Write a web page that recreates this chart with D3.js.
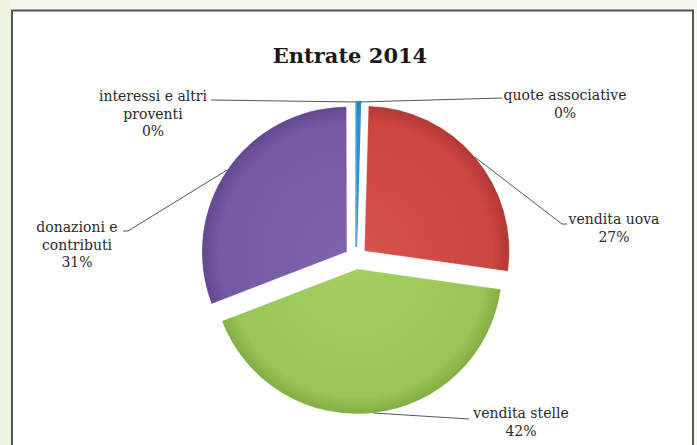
<!DOCTYPE html>
<html>
<head>
<meta charset="utf-8">
<script src="https://cdn.jsdelivr.net/npm/d3@7"></script>
<style>
  html, body { margin: 0; padding: 0; background: #f3f7ef; }
  svg { display: block; }
</style>
</head>
<body>
<div id="chart"></div>
<script>
// data (percent of Entrate 2014)
const categories = ["quote associative", "vendita uova", "vendita stelle", "donazioni e contributi", "interessi e altri proventi"];
const values = [0.45, 26.8, 41.9, 30.8, 0.05];
const labelLines = [["quote associative"], ["vendita uova"], ["vendita stelle"], ["donazioni e", "contributi"], ["interessi e altri", "proventi"]];
const title = "Entrate 2014";

const W = 697, H = 445;
const cx = 356, cy = 258, R = 145, explode = 11;

// slice shading: inner, mid, edge
const shades = [
  ["#3a9ad6", "#2f90cf", "#2578b0"],
  ["#d6524d", "#cc4642", "#b23834"],
  ["#a4cf61", "#9ac657", "#82ad43"],
  ["#8063ad", "#7659a3", "#634790"],
  ["#58b6cf", "#4bacc6", "#3b93aa"]
];

// label placement (centre of first line) and leader end next to the text
const labelPos = [
  { x: 565, y: 95, end: [502, 98], tick: 0 },
  { x: 614, y: 219, end: [562, 224], tick: 5 },
  { x: 521, y: 413, end: [469, 419], tick: 0 },
  { x: 77, y: 227, end: [128, 231], tick: -5 },
  { x: 153, y: 96, end: [211, 100], tick: 0 }
];

const svg = d3.select("#chart").append("svg")
  .attr("width", W).attr("height", H);

svg.append("rect").attr("width", W).attr("height", H).attr("fill", "#f3f7ef");
svg.append("rect").attr("width", 11).attr("height", H).attr("fill", "#edf4e4");

// frame
svg.append("rect")
  .attr("x", 12).attr("y", 10.5)
  .attr("width", 681).attr("height", H)
  .attr("fill", "#ffffff")
  .attr("stroke", "#555").attr("stroke-width", 2);

svg.append("text")
  .attr("x", 350).attr("y", 63)
  .attr("text-anchor", "middle")
  .attr("font-family", "DejaVu Serif")
  .attr("font-weight", "bold")
  .attr("font-size", 21)
  .attr("fill", "#1a1a1a")
  .text(title);

const defs = svg.append("defs");
shades.forEach((s, i) => {
  const gr = defs.append("radialGradient")
    .attr("id", "shade" + i)
    .attr("gradientUnits", "userSpaceOnUse")
    .attr("cx", 0).attr("cy", 0).attr("r", R);
  gr.append("stop").attr("offset", "0%").attr("stop-color", s[0]);
  gr.append("stop").attr("offset", "88%").attr("stop-color", s[1]);
  gr.append("stop").attr("offset", "100%").attr("stop-color", s[2]);
});

const pie = d3.pie().sort(null).value(d => d);
const arcs = pie(values);
const total = d3.sum(values);

const arc = d3.arc().innerRadius(0).outerRadius(R);

const mid = d => (d.startAngle + d.endAngle) / 2;
const shift = d => [explode * Math.sin(mid(d)), -explode * Math.cos(mid(d))];

const graph = svg.append("g").attr("transform", `translate(${cx}, ${cy})`);

graph.selectAll("g.slice")
  .data(arcs)
  .enter().append("g")
  .attr("class", "slice")
  .attr("transform", d => `translate(${shift(d)[0]}, ${shift(d)[1]})`)
  .append("path")
  .attr("d", arc)
  .attr("fill", (d, i) => `url(#shade${i})`)
  .attr("stroke", (d, i) => i === 0 ? shades[0][1] : "#ffffff")
  .attr("stroke-opacity", (d, i) => i === 0 ? 1 : 0.35)
  .attr("stroke-width", (d, i) => i === 0 ? 2 : 0.8);

// leader lines
const outerPoint = d => {
  const s = shift(d);
  return [cx + s[0] + R * Math.sin(mid(d)), cy + s[1] - R * Math.cos(mid(d))];
};

arcs.forEach((d, i) => {
  const p = outerPoint(d);
  const lp = labelPos[i];
  const pts = [p, lp.end];
  if (lp.tick) pts.push([lp.end[0] + lp.tick, lp.end[1]]);
  svg.append("path")
    .attr("d", d3.line()(pts))
    .attr("fill", "none")
    .attr("stroke", "#555")
    .attr("stroke-width", 1);
});

// labels
arcs.forEach((d, i) => {
  const lp = labelPos[i];
  const lines = labelLines[i].concat([Math.round(d.value / total * 100) + "%"]);
  const t = svg.append("text")
    .attr("text-anchor", "middle")
    .attr("font-family", "DejaVu Serif")
    .attr("font-size", 14)
    .attr("fill", "#2a2a2a");
  lines.forEach((ln, j) => {
    t.append("tspan")
      .attr("x", lp.x)
      .attr("y", lp.y + 5 + j * 17.5)
      .text(ln);
  });
});
</script>
</body>
</html>
